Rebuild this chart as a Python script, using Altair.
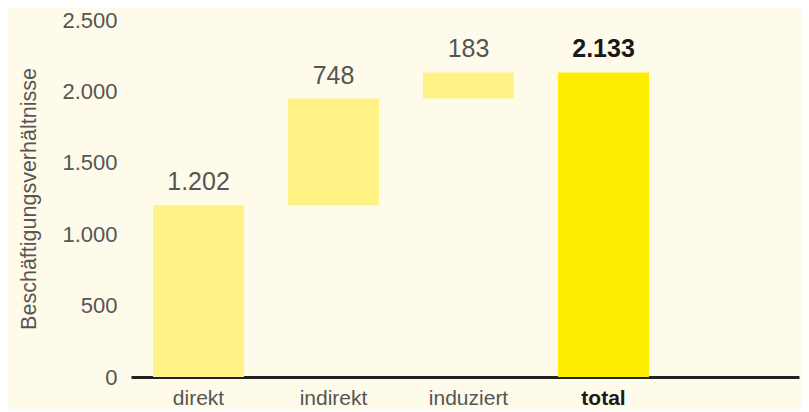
import altair as alt
import pandas as pd

categories = ["direkt", "indirekt", "induziert", "total"]
values = [1202, 748, 183, 2133]
labels = ["1.202", "748", "183", "2.133"]
is_total = [False, False, False, True]

starts, ends = [], []
run = 0
for v, t in zip(values, is_total):
    if t:
        starts.append(0)
        ends.append(v)
    else:
        starts.append(run)
        run += v
        ends.append(run)

df = pd.DataFrame({
    "cat": categories,
    "start": starts,
    "end": ends,
    "label": labels,
    "kind": ["total" if t else "part" for t in is_total],
})

FONT = "Liberation Sans"

x = alt.X(
    "cat:N",
    sort=categories,
    scale=alt.Scale(paddingInner=0.326, paddingOuter=0.637, align=0.128),
    axis=alt.Axis(
        title=None,
        labelAngle=0,
        labelFont=FONT,
        labelFontSize=21,
        labelColor={"expr": "datum.value == 'total' ? '#1a1a1a' : '#555555'"},
        labelFontWeight={"expr": "datum.value == 'total' ? 'bold' : 'normal'"},
        labelBaseline="alphabetic",
        labelPadding=27,
        ticks=False,
        tickSize=0,
        domain=True,
        domainColor="#222222",
        domainWidth=3,
    ),
)

y = alt.Y(
    "start:Q",
    scale=alt.Scale(domain=[0, 2500], nice=False),
    axis=alt.Axis(
        title="Beschäftigungsverhältnisse",
        titleFont=FONT,
        titleFontSize=21.5,
        titleFontWeight="normal",
        titleColor="#555555",
        titleX=-102,
        titleBaseline="middle",
        values=[0, 500, 1000, 1500, 2000, 2500],
        labelExpr="replace(format(datum.value, ','), ',', '.')",
        labelFont=FONT,
        labelFontSize=22,
        labelColor="#555555",
        labelPadding=14,
        ticks=False,
        tickSize=0,
        domain=False,
        grid=False,
    ),
)

bars = alt.Chart(df).mark_bar().encode(
    x=x,
    y=y,
    y2="end:Q",
    color=alt.Color(
        "kind:N",
        scale=alt.Scale(domain=["part", "total"], range=["#fff385", "#ffed00"]),
        legend=None,
    ),
)

text_part = alt.Chart(df).transform_filter(alt.datum.kind == "part").mark_text(
    baseline="alphabetic", dy=-15, font=FONT, fontSize=25, color="#555555"
).encode(
    x=alt.X("cat:N", sort=categories),
    y=alt.Y("end:Q"),
    text="label:N",
)

text_total = alt.Chart(df).transform_filter(alt.datum.kind == "total").mark_text(
    baseline="alphabetic", dy=-15, font=FONT, fontSize=25, color="#1a1a1a", fontWeight="bold"
).encode(
    x=alt.X("cat:N", sort=categories),
    y=alt.Y("end:Q"),
    text="label:N",
)

chart = (
    alt.layer(bars, text_part, text_total)
    .properties(
        width=668,
        height=357,
        background="#fffbea",
        padding={"left": 123, "top": 12, "right": 2, "bottom": 32},
        autosize=alt.AutoSizeParams(type="none"),
    )
    .configure_view(stroke=None)
)

chart.save("out.html", embed_options={"renderer": "svg", "actions": False})
